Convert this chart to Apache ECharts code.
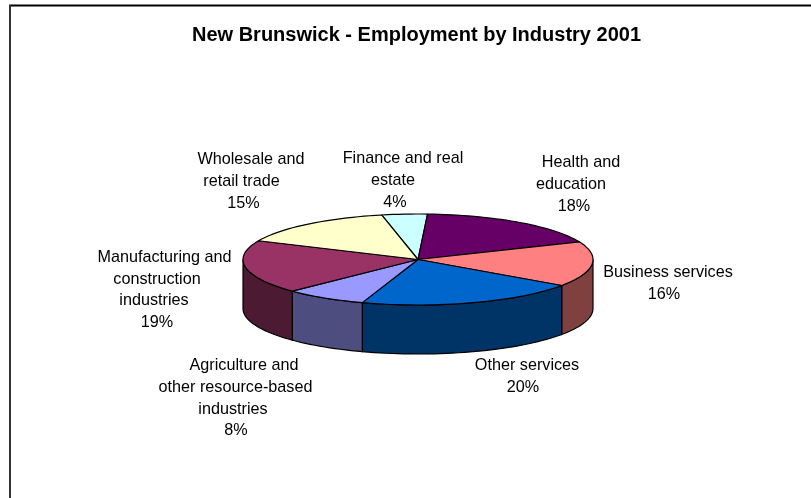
<!DOCTYPE html>
<html>
<head>
<meta charset="utf-8">
<title>New Brunswick - Employment by Industry 2001</title>
<style>
  html, body { margin: 0; padding: 0; background: #fff; }
  #main { width: 811px; height: 498px; }
</style>
<script src="https://cdn.jsdelivr.net/npm/echarts@6/dist/echarts.min.js"></script>
</head>
<body>
<div id="main"></div>
<script>
var chartTitle = 'New Brunswick - Employment by Industry 2001';

// clockwise from the back of the pie, labels keep the original line breaks
var categories = [
  'Finance and real\nestate',
  'Health and\neducation',
  'Business services',
  'Other services',
  'Agriculture and\nother resource-based\nindustries',
  'Manufacturing and\nconstruction\nindustries',
  'Wholesale and\nretail trade'
];
// share in percent (labels show them rounded)
var shares = [4.2, 17.8, 16.0, 20.49, 7.6, 19.0, 14.91];

var topColors = ['#CCFFFF', '#660066', '#FF8080', '#0066CC', '#9999FF', '#993366', '#FFFFCC'];
var sideColors = ['#667F7F', '#330033', '#804040', '#003366', '#4D4D80', '#4D1A33', '#80804D'];

// pie layout
var cx = 418, cy = 259.5, rx = 175, ry = 45.5, depth = 49;
var startAngle = -12;
var labelFont = '16.2px "Liberation Sans", Arial, sans-serif';
var labelLine = 21.6;
// middle y of the first line of each label
var labelY = [159, 163, 272.7, 366, 366, 257.7, 160];
// the original lines are not centred on each other, so x per line
var labelX = [
  [403, 393, 395],
  [581, 571, 574],
  [668, 664],
  [527, 523],
  [244, 235.5, 233, 236],
  [164.5, 157, 154, 157],
  [251, 241.5, 243.5]
];

var total = shares.reduce(function (a, b) { return a + b; }, 0);
var angles = [startAngle];
shares.forEach(function (v, i) {
  angles.push(angles[i] + v / total * 360);
});

function rim(deg, drop) {
  var r = deg * Math.PI / 180;
  return [cx + rx * Math.sin(r), cy - ry * Math.cos(r) + (drop || 0)];
}

function arcPoints(from, to, drop) {
  var pts = [];
  var n = Math.max(2, Math.ceil((to - from) / 2));
  for (var k = 0; k <= n; k++) {
    pts.push(rim(from + (to - from) * k / n, drop));
  }
  return pts;
}

function renderSlice(params) {
  var i = params.dataIndex;
  var from = angles[i], to = angles[i + 1];
  var children = [];

  // the wall only shows on the front half of the rim
  var a = Math.max(from, 90), b = Math.min(to, 270);
  if (b > a) {
    children.push({
      type: 'polygon',
      z2: 1,
      shape: { points: arcPoints(a, b, 0).concat(arcPoints(a, b, depth).reverse()) },
      style: { fill: sideColors[i], stroke: '#000', lineWidth: 1.2 }
    });
  }

  children.push({
    type: 'polygon',
    z2: 2,
    shape: { points: [[cx, cy]].concat(arcPoints(from, to, 0)) },
    style: { fill: topColors[i], stroke: '#000', lineWidth: 1.2, lineJoin: 'round' }
  });

  var lines = categories[i].split('\n').concat(Math.round(shares[i]) + '%');
  lines.forEach(function (line, k) {
    children.push({
      type: 'text',
      z2: 3,
      x: labelX[i][k],
      y: labelY[i] + k * labelLine,
      style: {
        text: line,
        font: labelFont,
        fill: '#000',
        align: 'center',
        verticalAlign: 'middle'
      }
    });
  });

  return { type: 'group', children: children };
}

var chart = echarts.init(document.getElementById('main'), null, { renderer: 'canvas' });
chart.setOption({
  animation: false,
  backgroundColor: '#fff',
  title: {
    text: chartTitle,
    left: 411.5,
    top: 20,
    textAlign: 'center',
    textStyle: { fontFamily: '"Liberation Sans", Arial, sans-serif', fontSize: 20, fontWeight: 'bold', color: '#000' }
  },
  graphic: [
    // plot area border, only top and left fall inside the picture
    { type: 'line', shape: { x1: 9, y1: 5.5, x2: 811, y2: 5.5 }, style: { stroke: '#000', lineWidth: 2 }, silent: true },
    { type: 'line', shape: { x1: 10, y1: 5, x2: 10, y2: 498 }, style: { stroke: '#333', lineWidth: 2 }, silent: true }
  ],
  series: [{
    type: 'custom',
    coordinateSystem: 'none',
    renderItem: renderSlice,
    data: shares,
    silent: true
  }]
});
</script>
</body>
</html>
